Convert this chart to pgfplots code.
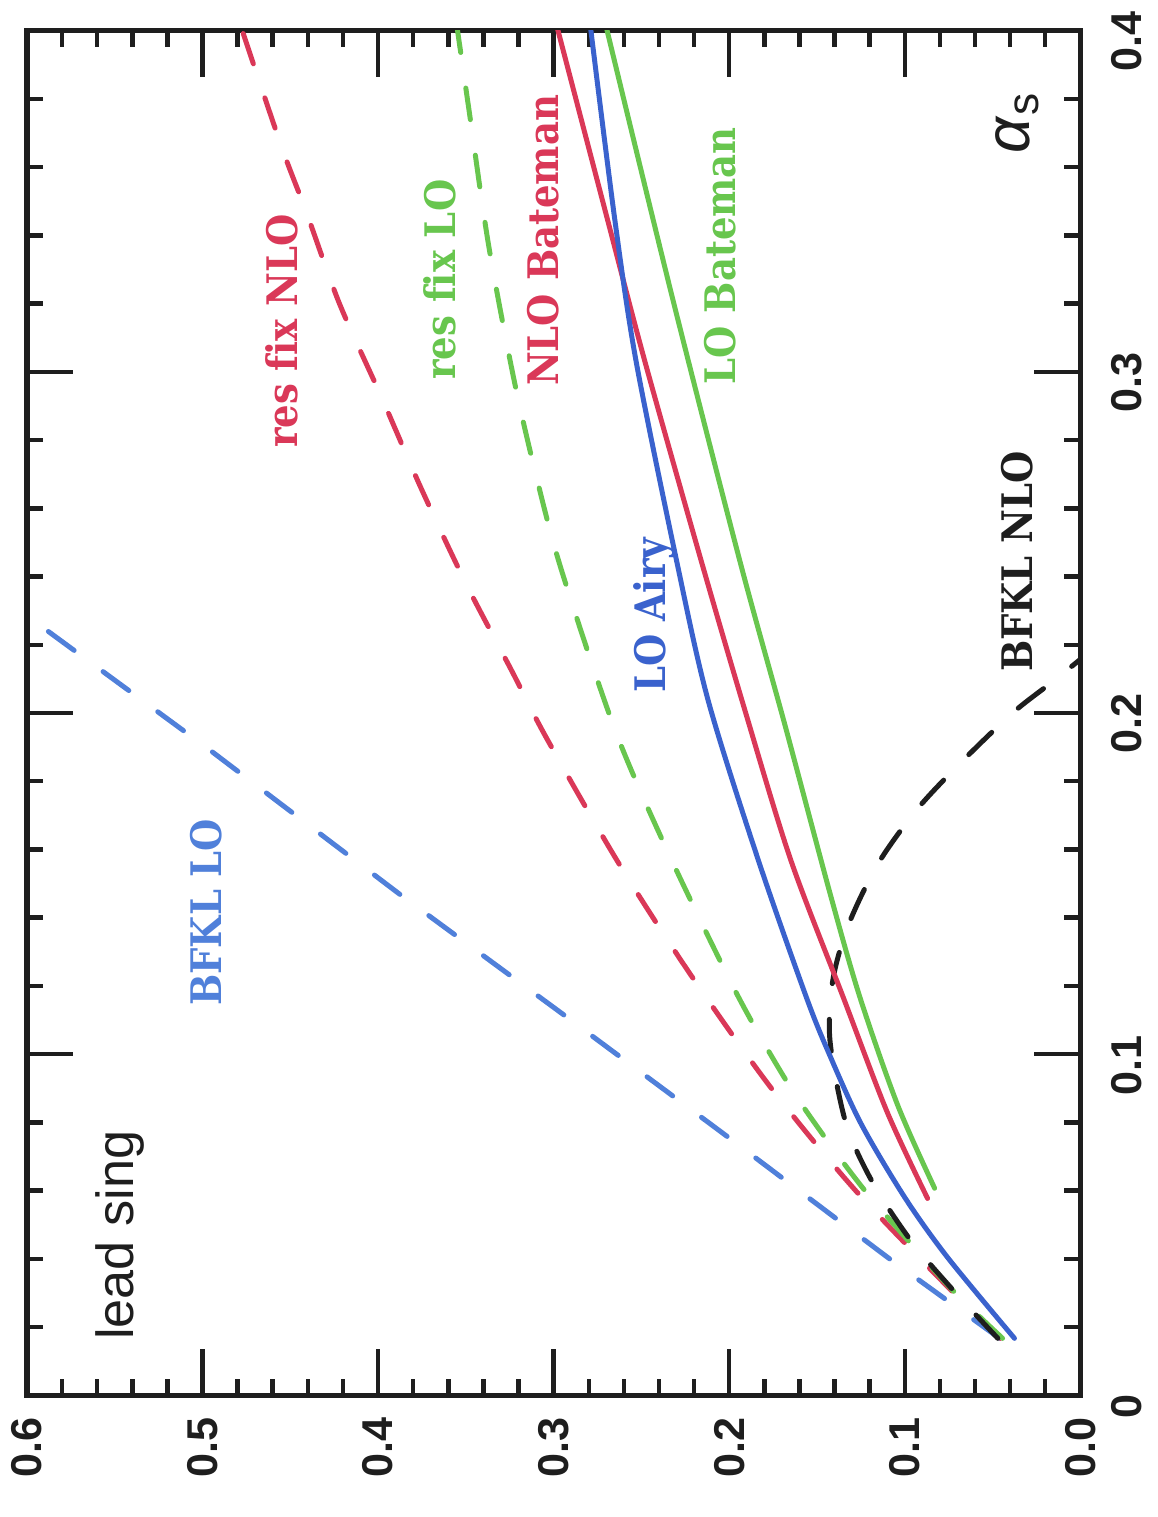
\documentclass[border=0pt]{standalone}
\usepackage{fontspec}
\setmainfont{Liberation Sans}
\newfontfamily\slab[FakeStretch=0.88, Ligatures=NoCommon]{DejaVu Serif}
\usepackage{pgfplots}
\pgfplotsset{compat=1.18}
\definecolor{cred}{RGB}{218,56,88}
\definecolor{cgreen}{RGB}{104,198,78}
\definecolor{cblue}{RGB}{58,98,205}
\definecolor{cbluel}{RGB}{80,128,218}
\definecolor{cblack}{RGB}{30,30,30}
\tikzset{lab/.style={rotate=90, font=\slab\bfseries\fontsize{12}{14}\selectfont}}
\begin{document}
\begin{tikzpicture}
\begin{axis}[
  scale only axis, width=105.6mm, height=136.8mm,
  xmin=0, xmax=0.6, ymin=0, ymax=0.4, x dir=reverse,
  xtick={0,0.1,0.2,0.3,0.4,0.5,0.6}, ytick={0,0.1,0.2,0.3,0.4},
  xticklabels={0.0,0.1,0.2,0.3,0.4,0.5,0.6},
  yticklabels={0,0.1,0.2,0.3,0.4},
  minor x tick num=4, minor y tick num=4,
  tick align=inside, major tick length=4.6mm, minor tick length=1.6mm,
  axis line style={line width=0.55mm, cblack},
  every tick/.style={line width=0.45mm, cblack},
  yticklabel pos=right,
  tick label style={font=\fontsize{12.3}{14}\selectfont\bfseries, text=cblack},
  xticklabel style={rotate=90, anchor=east},
  yticklabel style={rotate=90, anchor=north, xshift=-1.1mm},
  xticklabel shift=1.0mm, yticklabel shift=1.9mm,
  every axis plot/.append style={line width=0.5mm, line cap=round},
  dsh/.style={dash pattern=on 3.2mm off 3.6mm},
]
% BFKL LO
\addplot[cbluel, dsh] coordinates {(0.046,0.0167) (0.1097,0.0404) (0.202,0.0762) (0.2955,0.112) (0.388,0.147) (0.497,0.1896) (0.600,0.2285)};
% res fix NLO
\addplot[cred, dsh, smooth] coordinates {(0.0455,0.0167) (0.074,0.031) (0.128,0.060) (0.176,0.090) (0.2216,0.123) (0.263,0.156) (0.304,0.1926) (0.324,0.2125) (0.35,0.238) (0.3756,0.266) (0.398,0.2925) (0.422,0.320) (0.441,0.347) (0.455,0.366) (0.478,0.401)};
% res fix LO
\addplot[cgreen, dsh, smooth] coordinates {(0.0443,0.0167) (0.0716,0.0302) (0.0966,0.0445) (0.1227,0.060) (0.1455,0.0756) (0.1676,0.0923) (0.196,0.118) (0.2347,0.159) (0.265,0.195) (0.2955,0.2418) (0.3097,0.269) (0.3227,0.298) (0.337,0.337) (0.348,0.376) (0.355,0.401)};
% BFKL NLO
\addplot[cblack, dsh, smooth] coordinates {(0.047,0.0167) (0.074,0.0317) (0.0966,0.0454) (0.118,0.0621) (0.1335,0.0797) (0.1426,0.104) (0.141,0.1216) (0.132,0.138) (0.115,0.156) (0.0926,0.172) (0.067,0.186) (0.0386,0.200) (0.017,0.2087) (0.0,0.2157)};
% LO Bateman
\addplot[cgreen, smooth] coordinates {(0.083,0.0607) (0.104,0.085) (0.1255,0.1166) (0.1425,0.147) (0.168,0.196) (0.194,0.2447) (0.232,0.321) (0.270,0.401)};
% NLO Bateman
\addplot[cred, smooth] coordinates {(0.087,0.0577) (0.110,0.083) (0.135,0.1166) (0.165,0.157) (0.191,0.2007) (0.216,0.2447) (0.248,0.303) (0.269,0.344) (0.298,0.401)};
% LO Airy
\addplot[cblue, smooth] coordinates {(0.0375,0.0167) (0.0756,0.0404) (0.100,0.058) (0.125,0.0797) (0.143,0.100) (0.156,0.1166) (0.1835,0.157) (0.212,0.2037) (0.230,0.2447) (0.253,0.303) (0.265,0.344) (0.279,0.401)};
\node[rotate=90, font=\fontsize{14.9}{17}\selectfont, text=cblack] at (axis cs:0.547,0.0469) {lead sing};
\node[lab, text=cbluel] at (axis cs:0.4977,0.1416) {BFKL LO};
\node[lab, text=cred] at (axis cs:0.455,0.312) {res fix NLO};
\node[lab, text=cgreen] at (axis cs:0.365,0.327) {res fix LO};
\node[lab, text=cred] at (axis cs:0.3057,0.3385) {NLO Bateman};
\node[lab, text=cgreen] at (axis cs:0.205,0.334) {LO Bateman};
\node[lab, text=cblue] at (axis cs:0.243,0.2286) {LO Airy};
\node[lab, text=cblack] at (axis cs:0.0358,0.2444) {BFKL NLO};
\node[rotate=90, font=\fontsize{18}{20}\selectfont, text=cblack] at (axis cs:0.036,0.373) {\textit{α}\textsubscript{s}};
\coordinate (bl) at (axis cs:0.6,0);
\coordinate (tr) at (axis cs:0,0.4);
\end{axis}
\path ([shift={(-2.7mm,-12.2mm)}]bl) rectangle ([shift={(7.7mm,2.7mm)}]tr);
\end{tikzpicture}
\end{document}
